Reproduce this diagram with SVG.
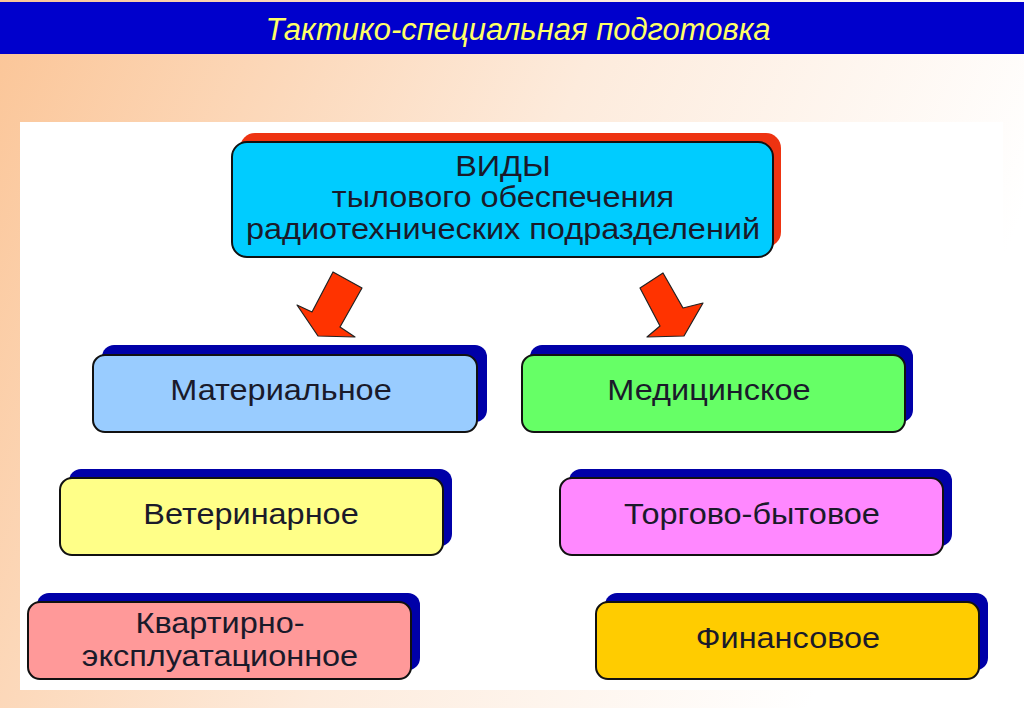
<svg xmlns="http://www.w3.org/2000/svg" width="1024" height="708" viewBox="0 0 1024 708">
<defs>
<linearGradient id="bg" x1="0" y1="0" x2="1" y2="0.3">
<stop offset="0" stop-color="#fbc597"/>
<stop offset="0.55" stop-color="#fdebdc"/>
<stop offset="1" stop-color="#ffffff"/>
</linearGradient>
<style>
.box{stroke:#111;stroke-width:2}
.sh{fill:#0000a8}
.t{font-family:"Liberation Sans",Arial,sans-serif;font-size:29px;fill:#1a1a2a;text-anchor:middle}
.arr{fill:#ff3300;stroke:#222;stroke-width:1.2;stroke-linejoin:round}
</style>
</defs>
<rect width="1024" height="708" fill="url(#bg)"/>
<rect x="0" y="2" width="1024" height="52" fill="#0000cc"/>
<text x="518" y="40" font-family="Liberation Sans,Arial,sans-serif" font-size="31" font-style="italic" fill="#ffff66" text-anchor="middle">Тактико-специальная подготовка</text>
<rect x="20" y="122" width="983" height="568" fill="#ffffff"/>

<g id="connectors">
<polygon class="arr" points="333,272 362,288 340,327 355,337 318,336 297,305 312,312"/>
<polygon class="arr" points="640,288 663,273 683,308 703,303 684,336 647,337 660,326"/>
</g>

<g id="top">
<rect x="240" y="133" width="541" height="114" rx="15" fill="#ee3311"/>
<rect class="box" x="232" y="142" width="541" height="115" rx="15" fill="#00ccff"/>
<text class="t" transform="translate(503,176) scale(1.12,1)">ВИДЫ</text>
<text class="t" transform="translate(503,207) scale(1.12,1)">тылового обеспечения</text>
<text class="t" transform="translate(503,239) scale(1.12,1)">радиотехнических подразделений</text>
</g>

<g id="material">
<rect class="sh" x="102" y="345" width="385" height="77" rx="12"/>
<rect class="box" x="93" y="355" width="384" height="77" rx="12" fill="#99ccff"/>
<text class="t" transform="translate(281,400) scale(1.12,1)">Материальное</text>
</g>

<g id="medical">
<rect class="sh" x="530" y="345" width="383" height="77" rx="12"/>
<rect class="box" x="522" y="355" width="383" height="77" rx="12" fill="#66ff66"/>
<text class="t" transform="translate(709,400) scale(1.12,1)">Медицинское</text>
</g>

<g id="veterinary">
<rect class="sh" x="69" y="469" width="383" height="77" rx="12"/>
<rect class="box" x="60" y="478" width="383" height="77" rx="12" fill="#ffff88"/>
<text class="t" transform="translate(251,524) scale(1.12,1)">Ветеринарное</text>
</g>

<g id="trade">
<rect class="sh" x="569" y="469" width="383" height="77" rx="12"/>
<rect class="box" x="560" y="478" width="383" height="77" rx="12" fill="#ff88ff"/>
<text class="t" transform="translate(752,524) scale(1.12,1)">Торгово-бытовое</text>
</g>

<g id="housing">
<rect class="sh" x="37" y="593" width="383" height="77" rx="12"/>
<rect class="box" x="28" y="602" width="383" height="77" rx="12" fill="#ff9999"/>
<text class="t" transform="translate(220,633) scale(1.12,1)">Квартирно-</text>
<text class="t" transform="translate(220,666) scale(1.12,1)">эксплуатационное</text>
</g>

<g id="finance">
<rect class="sh" x="605" y="593" width="383" height="77" rx="12"/>
<rect class="box" x="596" y="602" width="383" height="77" rx="12" fill="#ffcc00"/>
<text class="t" transform="translate(788,648) scale(1.12,1)">Финансовое</text>
</g>
</svg>
